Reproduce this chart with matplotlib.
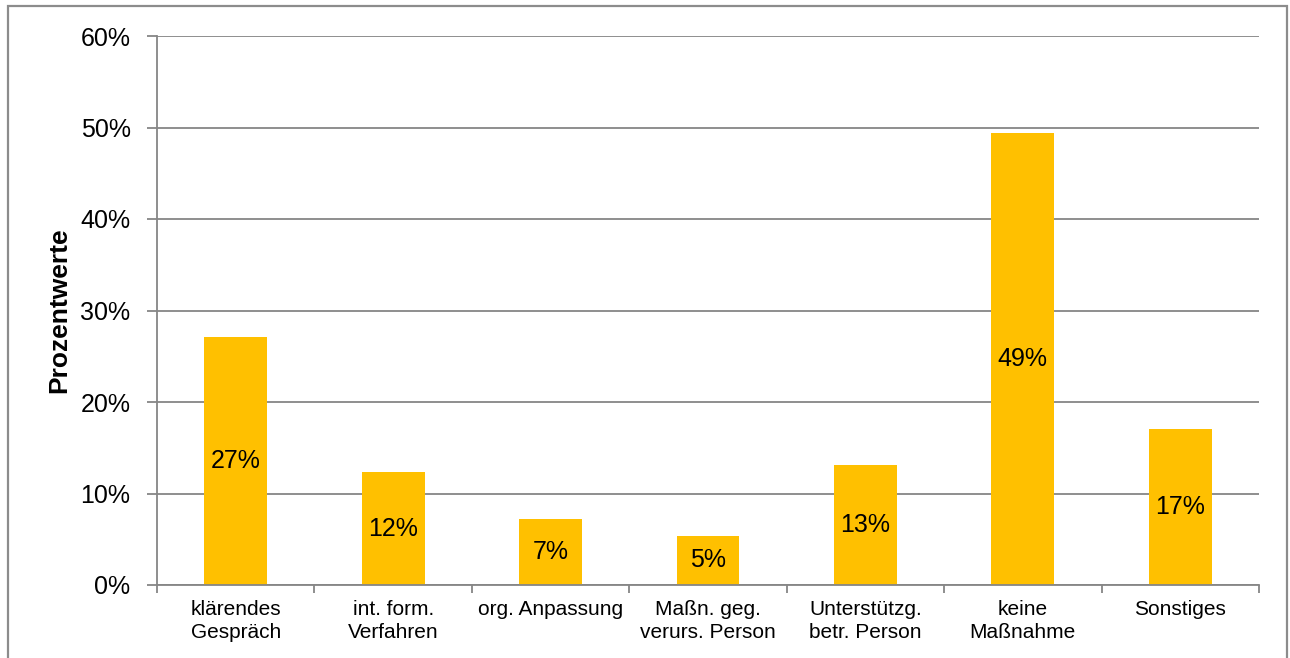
import matplotlib
matplotlib.use('Agg')
import matplotlib.pyplot as plt
import numpy as np
from matplotlib.patches import Rectangle
from matplotlib.ticker import FixedLocator, FuncFormatter

plt.rcParams['font.family'] = ['Liberation Sans', 'DejaVu Sans']

# ---- data ----
categories = ['klärendes\nGespräch', 'int. form.\nVerfahren', 'org. Anpassung',
              'Maßn. geg.\nverurs. Person', 'Unterstützg.\nbetr. Person',
              'keine\nMaßnahme', 'Sonstiges']
values = [27.1, 12.3, 7.2, 5.4, 13.1, 49.4, 17.0]
yticks = [0, 10, 20, 30, 40, 50, 60]

GRID = '#868686'
BAR = '#FFC000'

fig = plt.figure(figsize=(12.9, 6.58), dpi=100)
ax = fig.add_axes([157/1290, 1-585/658, (1259-157)/1290, (585-36)/658])

x = np.arange(len(categories))
ax.bar(x, values, width=0.4, color=BAR, zorder=3)
for xi, v in zip(x, values):
    ax.text(xi, v/2, '%.0f%%' % v, ha='center', va='center', fontsize=18, color='black', zorder=4)

ax.set_xlim(-0.5, len(categories)-0.5)
ax.set_ylim(0, 60)
ax.set_yticks(yticks)
ax.yaxis.set_major_formatter(FuncFormatter(lambda v, p: '%d%%' % v))
ax.yaxis.grid(True, color=GRID, lw=1.3, zorder=0)
ax.tick_params(axis='y', length=7, width=1.3, color=GRID, pad=12, labelsize=18)

# category boundaries as major ticks, labels on minor ticks
ax.xaxis.set_major_locator(FixedLocator(np.arange(-0.5, len(categories), 1)))
ax.xaxis.set_major_formatter(FuncFormatter(lambda v, p: ''))
ax.xaxis.set_minor_locator(FixedLocator(x))
ax.set_xticklabels(categories, minor=True, fontsize=15, linespacing=1.25)
ax.tick_params(axis='x', which='major', length=6, width=1.3, color=GRID)
ax.tick_params(axis='x', which='minor', length=0, pad=11)

for s in ['top', 'right']:
    ax.spines[s].set_visible(False)
for s in ['left', 'bottom']:
    ax.spines[s].set_color(GRID)
    ax.spines[s].set_linewidth(1.3)
    ax.spines[s].set_zorder(5)

ax.set_ylabel('Prozentwerte', fontsize=19, fontweight='bold', labelpad=7)

# outer frame
fig.patches.append(Rectangle((8/1290, -0.05), (1287-8)/1290, 1-6/658+0.05,
                             transform=fig.transFigure, fill=False,
                             edgecolor='#8c8c8c', lw=1.6, clip_on=False))

fig.savefig('out.png', dpi=100)
